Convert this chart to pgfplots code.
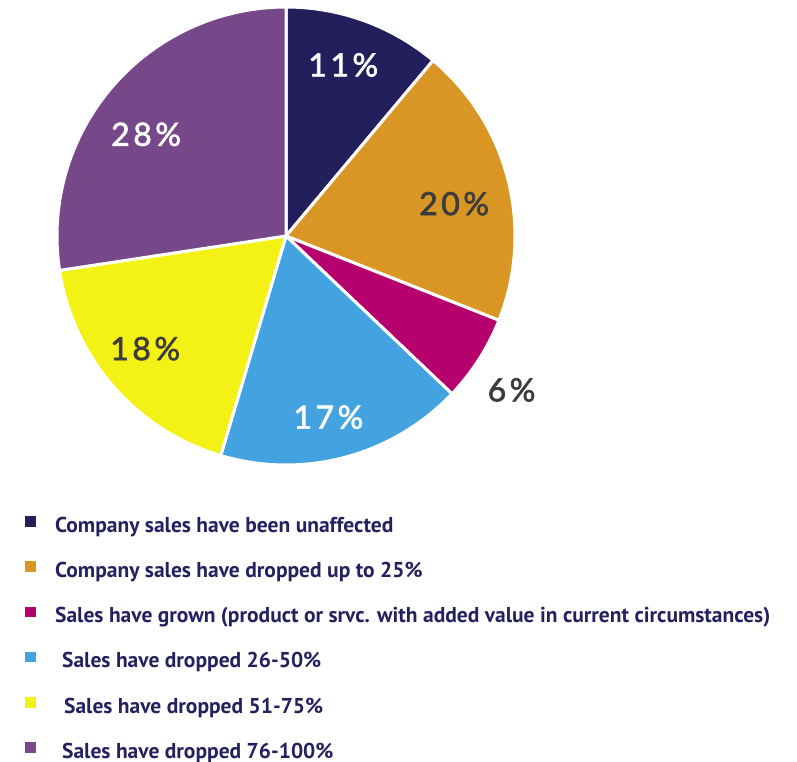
\documentclass[border=0pt]{standalone}
\usepackage{fontspec}
\setmainfont{PT Sans}
\newfontfamily\pctfont[LetterSpace=11, FakeBold=2]{Lato}
\usepackage{pgfplots}
\pgfplotsset{compat=1.18}
\definecolor{c1}{HTML}{231E5C}
\definecolor{c2}{HTML}{D99624}
\definecolor{c3}{HTML}{B5006E}
\definecolor{c4}{HTML}{43A3E0}
\definecolor{c5}{HTML}{F4F114}
\definecolor{c6}{HTML}{764789}
\definecolor{txt}{HTML}{24215E}
\definecolor{gr}{HTML}{3C3C3C}
\begin{document}
\begin{tikzpicture}
\useasboundingbox (0,0) rectangle (797pt,761pt);
\begin{axis}[
  at={(286pt,525pt)}, anchor=center,
  width=458pt, height=458pt, scale only axis,
  xmin=-1, xmax=1, ymin=-1, ymax=1,
  hide axis, clip=false,
  legend cell align=left,
  legend image code/.code={\path[#1,draw=none] (0pt,0pt) rectangle (10.5pt,10.5pt);},
  legend style={at={(-0.0699,-0.1114)}, anchor=north west, draw=none, fill=none,
    inner sep=0pt, row sep=24.2pt,
    font=\fontsize{21.5}{21.5}\selectfont\bfseries\color{txt},
    nodes={inner sep=0pt, text height=16pt, text depth=5pt},
    /tikz/every odd column/.append style={column sep=19.5pt}},
  every axis plot/.append style={draw=white, line width=3pt, line join=round, samples=80},
]
% shares (%): 11.1, 19.9, 6.1, 17.5, 18.0, 27.4  -> cumulative 0, 11.1, 31, 37.1, 54.6, 72.6, 100
\addplot[fill=c1, domain=90-3.6*11.1:90-3.6*0] ({cos(x)},{sin(x)}) -- (0,0) -- cycle;
\addlegendentry{Company sales have been unaffected}
\addplot[fill=c2, domain=90-3.6*31:90-3.6*11.1] ({cos(x)},{sin(x)}) -- (0,0) -- cycle;
\addlegendentry{Company sales have dropped up to 25\%}
\addplot[fill=c3, domain=90-3.6*37.1:90-3.6*31] ({cos(x)},{sin(x)}) -- (0,0) -- cycle;
\addlegendentry{Sales have grown (product or srvc. with added value in current circumstances)}
\addplot[fill=c4, domain=90-3.6*54.6:90-3.6*37.1] ({cos(x)},{sin(x)}) -- (0,0) -- cycle;
\addlegendentry{\hspace{7pt}Sales have dropped 26-50\%}
\addplot[fill=c5, domain=90-3.6*72.6:90-3.6*54.6] ({cos(x)},{sin(x)}) -- (0,0) -- cycle;
\addlegendentry{\hspace{9pt}Sales have dropped 51-75\%}
\addplot[fill=c6, domain=90-3.6*100:90-3.6*72.6] ({cos(x)},{sin(x)}) -- (0,0) -- cycle;
\addlegendentry{\hspace{7pt}Sales have dropped 76-100\%}
\begin{scope}[every node/.style={font=\pctfont\fontsize{32}{32}\selectfont}]
\node[white] at (axis cs:0.25,0.747) {11\%};
\node[gr] at (axis cs:0.734,0.141) {20\%};
\node[gr] at (axis cs:0.985,-0.672) {6\%};
\node[white] at (axis cs:0.185,-0.791) {17\%};
\node[gr] at (axis cs:-0.615,-0.492) {18\%};
\node[white] at (axis cs:-0.611,0.444) {28\%};
\end{scope}
\end{axis}
\end{tikzpicture}
\end{document}
